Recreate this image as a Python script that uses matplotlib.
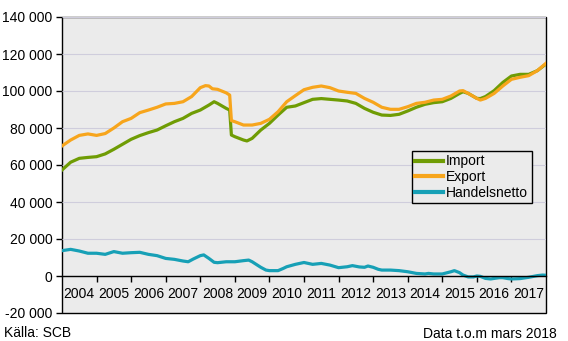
import matplotlib
matplotlib.use("Agg")
import matplotlib.pyplot as plt
from matplotlib.ticker import FixedLocator, FuncFormatter, NullFormatter

plt.rcParams["font.family"] = ["Liberation Sans", "DejaVu Sans"]
plt.rcParams["font.size"] = 10

# monthly-ish readings, decimal years, values in MSEK
import_t = [2004.0, 2004.25, 2004.5, 2004.75, 2005.0, 2005.25, 2005.5, 2005.75,
            2006.0, 2006.25, 2006.5, 2006.75, 2007.0, 2007.25, 2007.5, 2007.75,
            2008.0, 2008.25, 2008.4, 2008.5, 2008.75, 2008.85, 2008.9, 2009.0,
            2009.25, 2009.35, 2009.5, 2009.75, 2010.0, 2010.25, 2010.5, 2010.75,
            2011.0, 2011.25, 2011.5, 2011.75, 2012.0, 2012.25, 2012.5, 2012.75,
            2013.0, 2013.25, 2013.5, 2013.75, 2014.0, 2014.25, 2014.5, 2014.75,
            2015.0, 2015.25, 2015.5, 2015.6, 2015.75, 2016.0, 2016.1, 2016.25,
            2016.5, 2016.75, 2017.0, 2017.25, 2017.5, 2017.75, 2018.0]
import_v = [57300, 61500, 63600, 64100, 64500, 66000, 68500, 71200,
            73900, 75900, 77500, 78900, 81200, 83400, 85200, 87900,
            89700, 92400, 94200, 93300, 90600, 89700, 76200, 75300,
            73500, 73000, 74400, 78900, 82500, 87000, 91200, 91900,
            93700, 95500, 95900, 95500, 95100, 94600, 93300, 90600,
            88500, 87000, 86800, 87400, 89200, 91200, 92800, 93700,
            94200, 96000, 98700, 99600, 98700, 96000, 95900, 97000,
            100200, 104600, 108100, 109000, 109000, 111000, 114600]

export_t = [2004.0, 2004.25, 2004.5, 2004.75, 2005.0, 2005.25, 2005.5, 2005.75,
            2006.0, 2006.25, 2006.5, 2006.75, 2007.0, 2007.25, 2007.5, 2007.75,
            2008.0, 2008.15, 2008.25, 2008.35, 2008.5, 2008.75, 2008.85, 2008.9,
            2009.0, 2009.25, 2009.5, 2009.75, 2010.0, 2010.25, 2010.5, 2010.75,
            2011.0, 2011.25, 2011.5, 2011.75, 2012.0, 2012.25, 2012.5, 2012.75,
            2013.0, 2013.25, 2013.5, 2013.75, 2014.0, 2014.25, 2014.5, 2014.75,
            2015.0, 2015.25, 2015.5, 2015.6, 2015.75, 2016.0, 2016.1, 2016.25,
            2016.5, 2016.75, 2017.0, 2017.25, 2017.5, 2017.75, 2018.0]
export_v = [70300, 73500, 76000, 76800, 76000, 77000, 80000, 83400,
            85200, 88300, 89700, 91200, 93000, 93300, 94200, 97000,
            101800, 102900, 102700, 101200, 100900, 99000, 97800, 84000,
            83400, 81600, 81600, 82500, 84700, 88800, 94200, 97500,
            100700, 102000, 102700, 101800, 100000, 99300, 98700, 96000,
            93900, 91200, 90100, 90100, 91500, 93300, 93900, 95100,
            95500, 97300, 100000, 100200, 98700, 96000, 95100, 96000,
            98700, 102700, 106300, 107400, 108300, 111000, 115000]

netto_t = [2004.0, 2004.25, 2004.5, 2004.75, 2005.0, 2005.25, 2005.5, 2005.75,
           2006.0, 2006.25, 2006.5, 2006.75, 2007.0, 2007.25, 2007.5, 2007.65,
           2007.8, 2008.0, 2008.1, 2008.25, 2008.4, 2008.5, 2008.75, 2009.0,
           2009.25, 2009.4, 2009.5, 2009.65, 2009.75, 2009.9, 2010.0, 2010.25,
           2010.4, 2010.5, 2010.75, 2011.0, 2011.25, 2011.5, 2011.75, 2012.0,
           2012.25, 2012.4, 2012.6, 2012.75, 2012.85, 2013.0, 2013.15, 2013.25,
           2013.5, 2013.75, 2014.0, 2014.25, 2014.5, 2014.6, 2014.75, 2015.0,
           2015.25, 2015.35, 2015.5, 2015.6, 2015.75, 2015.9, 2016.0, 2016.1,
           2016.25, 2016.4, 2016.5, 2016.65, 2016.75, 2016.9, 2017.0, 2017.25,
           2017.5, 2017.75, 2017.9, 2018.0]
netto_v = [13700, 14400, 13500, 12300, 12300, 11700, 13200, 12300,
           12600, 12800, 11700, 11000, 9500, 9000, 8100, 7700,
           9200, 11000, 11400, 9500, 7400, 7200, 7700, 7700,
           8300, 8600, 7700, 5900, 4700, 3200, 2900, 2900,
           4100, 5000, 6300, 7300, 6300, 6800, 5900, 4500,
           5000, 5600, 4900, 4700, 5400, 4700, 3600, 3200,
           3200, 2900, 2300, 1400, 1100, 1400, 1100, 1100,
           2300, 2900, 1800, 500, -500, -500, 0, -200,
           -1300, -1600, -1300, -900, -900, -1400, -1600, -1400,
           -700, 200, 500, 400]

years = list(range(2004, 2018))
y_ticks = list(range(-20000, 140001, 20000))

fig = plt.figure(figsize=(5.68, 3.41), dpi=100)
ax = fig.add_axes([62 / 568, 1 - 313 / 341, 484 / 568, 296 / 341])
ax.set_facecolor("#ebebeb")
ax.patch.set_edgecolor("black")
ax.patch.set_linewidth(1.0)

for y in y_ticks:
    ax.axhline(y, color="#cfcddc", lw=0.8, zorder=1)

ax.plot(import_t, import_v, color="#6f9c04", lw=2.3, label="Import", zorder=3)
ax.plot(export_t, export_v, color="#f7a51c", lw=2.3, label="Export", zorder=4)
ax.plot(netto_t, netto_v, color="#17a0b6", lw=2.3, label="Handelsnetto", zorder=3)

ax.set_xlim(2004, 2018)
ax.set_ylim(-20000, 140000)

# x axis sits on the zero line; year labels centred between year ticks
for side in ("top", "right", "left"):
    ax.spines[side].set_visible(False)
ax.spines["bottom"].set_position(("data", 0))
ax.spines["bottom"].set_linewidth(1.0)
ax.spines["bottom"].set_zorder(5)
ax.xaxis.set_major_locator(FixedLocator(years[1:]))
ax.xaxis.set_major_formatter(NullFormatter())
ax.xaxis.set_minor_locator(FixedLocator([y + 0.5 for y in years]))
ax.xaxis.set_minor_formatter(FuncFormatter(lambda v, p: str(int(v))))
ax.tick_params(axis="x", which="major", direction="out", length=4, width=1)
ax.tick_params(axis="x", which="minor", length=0, pad=8, labelsize=10)

ax.yaxis.set_major_locator(FixedLocator(y_ticks))
ax.yaxis.set_major_formatter(FuncFormatter(lambda v, p: f"{v:,.0f}".replace(",", " ")))
ax.tick_params(axis="y", direction="out", length=4, width=1, pad=3, labelsize=10)

leg = ax.legend(loc="upper left", bbox_to_anchor=(412 / 568, 1 - 151 / 341),
                bbox_transform=fig.transFigure, frameon=True, fancybox=False,
                framealpha=1, facecolor="#ebebeb", edgecolor="black",
                handlelength=2.0, handletextpad=0.2, labelspacing=0.12,
                borderpad=0.25, borderaxespad=0, fontsize=10)
leg.get_frame().set_linewidth(1.0)
for line in leg.get_lines():
    line.set_linewidth(3)

fig.text(4 / 568, 1 - 333 / 341, "Källa: SCB", ha="left", va="center", fontsize=10)
fig.text(557 / 568, 1 - 334 / 341, "Data t.o.m mars 2018", ha="right", va="center", fontsize=10)

fig.savefig("out.png", dpi=100)
